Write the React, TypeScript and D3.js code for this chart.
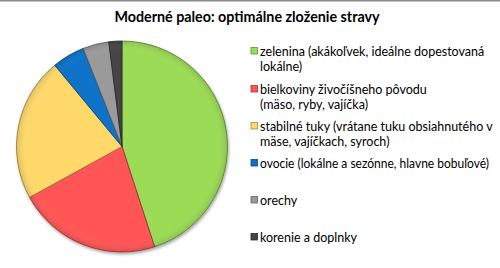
import React from "react";
import * as d3 from "d3";

const categories = [
  "zelenina",
  "bielkoviny",
  "stabilné tuky",
  "ovocie",
  "orechy",
  "korenie a doplnky",
];
const values = [45, 22, 22, 5, 4, 2];
const legendLines: string[][] = [
  ["zelenina (akákoľvek, ideálne dopestovaná", "lokálne)"],
  ["bielkoviny živočíšneho pôvodu", "(mäso, ryby, vajíčka)"],
  ["stabilné tuky (vrátane tuku obsiahnutého v", "mäse, vajíčkach, syroch)"],
  ["ovocie (lokálne a sezónne, hlavne bobuľové)"],
  ["orechy"],
  ["korenie a doplnky"],
];
const colors = ["#9bdb55", "#ff5454", "#ffd86a", "#0a72c8", "#9a9a9a", "#444444"];
const title = "Moderné paleo: optimálne zloženie stravy";

const W = 500;
const H = 268;
const cx = 122;
const cy = 146.5;
const R = 105.5;
const FONT = "Lato, 'Open Sans', sans-serif";
const legendY = [51, 89, 126, 163, 200, 237];
const lineGap = 15;

export default function App() {
  const data = categories.map((c, i) => ({ c, v: values[i], i }));
  const pie = d3
    .pie<{ c: string; v: number; i: number }>()
    .value((d) => d.v)
    .sort(null)
    .startAngle(0)
    .endAngle(2 * Math.PI);
  const arcs = pie(data);
  const arc = d3.arc<d3.PieArcDatum<{ c: string; v: number; i: number }>>().innerRadius(0).outerRadius(R);

  return (
    <svg
      width={W}
      height={H}
      style={{ position: "absolute", left: 0, top: 0, background: "#fff" }}
      fontFamily={FONT}
    >
      <defs>
        <filter id="sh" x="-20%" y="-20%" width="140%" height="140%">
          <feGaussianBlur in="SourceAlpha" stdDeviation="1.5" />
          <feOffset dx="1" dy="1.5" result="b" />
          <feComponentTransfer>
            <feFuncA type="linear" slope="0.35" />
          </feComponentTransfer>
          <feMerge>
            <feMergeNode />
            <feMergeNode in="SourceGraphic" />
          </feMerge>
        </filter>
        <radialGradient id="bev" cx={cx} cy={cy} r={R} gradientUnits="userSpaceOnUse">
          <stop offset="0.9" stopColor="#fff" stopOpacity="0" />
          <stop offset="1" stopColor="#000" stopOpacity="0.12" />
        </radialGradient>
      </defs>
      <rect x={0} y={0} width={W} height={H} fill="#fff" />
      <line x1={0} x2={W} y1={0.75} y2={0.75} stroke="#8a8a8a" strokeWidth={1.5} />
      <text
        x={247}
        y={22}
        textAnchor="middle"
        fontSize={14.3}
        fontWeight="bold"
        fill="#000"
      >
        {title}
      </text>
      <g transform={`translate(${cx},${cy})`} filter="url(#sh)">
        {arcs.map((a) => (
          <path
            key={a.data.c}
            d={arc(a) || ""}
            fill={colors[a.data.i]}
            stroke={d3.color(colors[a.data.i])!.darker(1.6).formatHex()}
            strokeWidth={0.8}
            strokeLinejoin="round"
          />
        ))}
      </g>
      <circle cx={cx} cy={cy} r={R} fill="url(#bev)" />
      <g>
        {legendLines.map((lines, i) => (
          <g key={i}>
            <rect
              x={251}
              y={legendY[i] - 3.5}
              width={6.5}
              height={6.5}
              fill={colors[i]}
              stroke={d3.color(colors[i])!.darker(1.2).formatHex()}
              strokeWidth={0.8}
            />
            {lines.map((l, j) => (
              <text
                key={j}
                x={260}
                y={legendY[i] + 4.5 + j * lineGap}
                fontSize={12.5}
                fill="#000"
                {...(i === 3 ? { textLength: 229, lengthAdjust: "spacingAndGlyphs" } : {})}
              >
                {l}
              </text>
            ))}
          </g>
        ))}
      </g>
    </svg>
  );
}
